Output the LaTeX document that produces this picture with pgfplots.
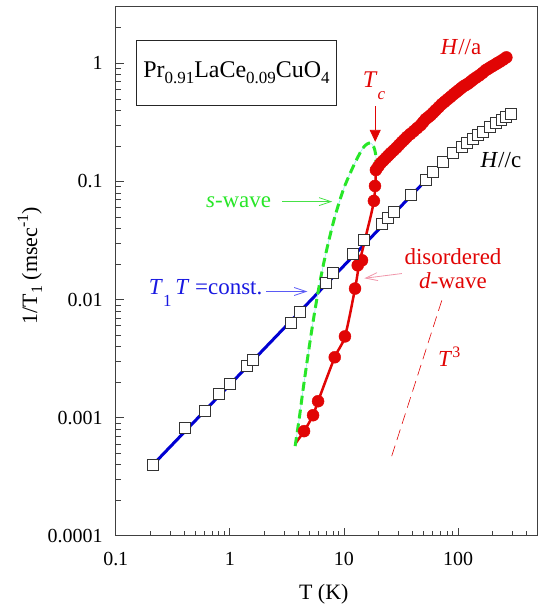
\documentclass[border=0pt]{standalone}
\usepackage{fontspec}
\setmainfont{Liberation Serif}
\usepackage{pgfplots}
\pgfplotsset{compat=1.18}
\usetikzlibrary{arrows.meta}

\definecolor{myred}{RGB}{225,5,5}
\definecolor{lineblue}{RGB}{0,0,210}
\definecolor{txtblue}{RGB}{25,25,225}
\definecolor{arrblue}{RGB}{90,90,245}
\definecolor{mygreen}{RGB}{40,230,40}
\definecolor{arrgreen}{RGB}{70,225,70}
\definecolor{lightcyan}{RGB}{150,235,240}
\definecolor{pinkarr}{RGB}{240,150,170}

\newcommand{\sub}[1]{\raisebox{-6pt}{\fontsize{17}{20}\selectfont #1}}

% H//c : open squares
\pgfplotstableread{
T r
0.212 0.000400
0.403 0.000826
0.602 0.00114
0.80 0.00160
1.004 0.00194
1.40 0.00273
1.60 0.00306
3.44 0.0064
4.13 0.0079
6.96 0.0139
8.0 0.0169
12.0 0.0245
14.96 0.032
21.5 0.0438
24.2 0.0492
27.3 0.0553
38.5 0.0769
52 0.103
60 0.120
73.2 0.146
89.5 0.174
107.3 0.195
118.7 0.211
133.9 0.228
148 0.247
163.7 0.262
188.4 0.288
212.6 0.312
239.9 0.330
265.2 0.350
293.3 0.371
}\hcdata

% H//a : filled circles
\pgfplotstableread{
T r
4.47 0.00077
5.36 0.00105
5.93 0.00138
8.30 0.00325
10.2 0.00488
12.5 0.0124
13.2 0.0195
14.4 0.0215
18.3 0.0685
18.7 0.0916
19.05 0.125
20.0 0.134
21.0 0.143
22.1 0.150
23.3 0.158
24.5 0.166
25.7 0.174
27.2 0.183
28.8 0.193
30.4 0.204
32.1 0.2155
33.8 0.226
35.5 0.2374
38.1 0.252
40.9 0.2668
43.8 0.283
47.0 0.2998
49.4 0.318
52.0 0.3368
54.7 0.350
57.5 0.3640
60.5 0.382
63.6 0.4012
67.6 0.425
71.8 0.4508
76.3 0.473
81.0 0.4968
86.0 0.521
91.3 0.5475
96.0 0.569
101 0.5918
106 0.615
111.7 0.6395
117.5 0.658
123.5 0.6779
130 0.705
136.6 0.7328
145 0.762
154 0.7920
164 0.831
174 0.8728
183 0.899
192 0.9253
202 0.953
212.6 0.9808
223 1.010
235 1.0396
250 1.080
265 1.1236
}\hadata

% s-wave calculation
\pgfplotstableread{
T r
3.733 0.000575
4.046 0.000971
4.385 0.00174
4.752 0.00300
5.150 0.00506
5.580 0.00823
6.048 0.01287
6.688 0.02093
7.396 0.03209
8.178 0.0473
9.045 0.0658
10.0 0.0881
11.06 0.1113
12.23 0.1378
13.52 0.1674
14.65 0.1917
15.88 0.2072
17.21 0.2113
18.28 0.1954
18.95 0.170
19.1 0.143
}\swave

% disordered d-wave calculation
\pgfplotstableread{
T r
3.73 0.0006
4.47 0.00077
5.36 0.00105
5.93 0.00138
8.30 0.00325
10.2 0.00488
12.5 0.0124
13.6 0.020
15.2 0.0315
18.3 0.0685
19.05 0.125
}\dwave

\begin{document}
\begin{tikzpicture}
\begin{axis}[
  name=ax,
  xmode=log, ymode=log,
  width=423pt, height=530pt, scale only axis,
  xmin=0.1, xmax=500, ymin=0.0001, ymax=3,
  xtick={0.1,1,10,100}, xticklabels={0.1,1,10,100},
  ytick={0.0001,0.001,0.01,0.1,1}, yticklabels={0.0001,0.001,0.01,0.1,1},
  minor xtick={0.2,0.3,0.4,0.5,0.6,0.7,0.8,0.9,2,3,4,5,6,7,8,9,20,30,40,50,60,70,80,90,200,300,400},
  minor ytick={0.0002,0.0003,0.0004,0.0005,0.0006,0.0007,0.0008,0.0009,
    0.002,0.003,0.004,0.005,0.006,0.007,0.008,0.009,
    0.02,0.03,0.04,0.05,0.06,0.07,0.08,0.09,
    0.2,0.3,0.4,0.5,0.6,0.7,0.8,0.9,2},
  tick align=inside, xtick pos=bottom, ytick pos=left,
  major tick length=8pt, minor tick length=5pt,
  axis line style={black!75, line width=1pt},
  every tick/.style={black!75, line width=0.8pt},
  ticklabel style={font=\fontsize{20}{24}\selectfont},
  xticklabel style={anchor=base, yshift=-30pt},
  yticklabel style={anchor=east, inner sep=0pt, xshift=-13pt},
  xlabel={T (K)},
  ylabel={1/T\raisebox{-5pt}{\fontsize{16}{18}\selectfont 1} (msec\raisebox{9pt}{\fontsize{16}{18}\selectfont -1})},
  label style={font=\fontsize{22}{26}\selectfont},
  xlabel style={at={(rel axis cs:0.5,0)}, anchor=center, yshift=-58pt, xshift=-3pt},
  ylabel style={at={(rel axis cs:-0.2033,0.511)}, anchor=center},
  clip=false,
]
% T1T = const. line
\addplot[lineblue, line width=3pt] coordinates {(0.212,0.0004) (50,0.098)};
% disordered d-wave line
\addplot[myred, line width=2.5pt, smooth] table[x=T, y=r] {\dwave};
% H//a
\addplot[only marks, mark=*, mark size=6pt, mark options={fill=myred, draw=myred}] table[x=T, y=r] {\hadata};
% H//c
\addplot[only marks, mark=square*, mark size=5.5pt, mark options={fill=white, draw=black!80, line width=0.9pt}] table[x=T, y=r] {\hcdata};
% s-wave
\addplot[lightcyan, line width=0.6pt, smooth] table[x=T, y=r] {\swave};
\addplot[mygreen, line width=3pt, dash pattern=on 9pt off 5pt, smooth] table[x=T, y=r] {\swave};
% T^3 guide
\addplot[myred, line width=0.6pt, dash pattern=on 11pt off 6pt] coordinates {(26.2,0.000473) (74.7,0.011)};

% annotations
\node[draw=black!85, line width=0.9pt, minimum width=200pt, minimum height=65pt, inner sep=0pt,
  font=\fontsize{24}{28}\selectfont] at (rel axis cs:0.286,0.875)
  {Pr\sub{0.91}LaCe\sub{0.09}CuO\sub{4}};
\node[myred, font=\fontsize{23}{26}\selectfont] at (rel axis cs:0.818,0.925) {\textit{H}//a};
\node[black, font=\fontsize{23}{26}\selectfont] at (rel axis cs:0.9125,0.711) {\textit{H}//c};
\node[myred, font=\fontsize{24}{26}\selectfont] at (rel axis cs:0.612,0.851)
  {\textit{T}\raisebox{-12pt}{\fontsize{17}{20}\selectfont\textit{c}}};
\draw[myred, line width=0.8pt, -{Triangle[length=12pt, width=11pt]}] (rel axis cs:0.6147,0.812) -- (rel axis cs:0.6147,0.745);
\node[myred, font=\fontsize{23}{24}\selectfont, align=center] at (rel axis cs:0.799,0.506) {disordered\\\textit{d}-wave};
\draw[pinkarr, line width=0.8pt, -{Straight Barb[length=12pt, width=8pt]}] (rel axis cs:0.678,0.496) -- (rel axis cs:0.589,0.487);
\node[mygreen, font=\fontsize{23}{26}\selectfont] at (rel axis cs:0.291,0.630) {\textit{s}-wave};
\draw[arrgreen, line width=0.8pt, -{Straight Barb[length=12pt, width=8pt]}] (rel axis cs:0.395,0.632) -- (rel axis cs:0.513,0.632);
\node[txtblue, font=\fontsize{23}{26}\selectfont] at (rel axis cs:0.213,0.46)
  {\textit{T}\raisebox{-12pt}{\fontsize{17}{20}\selectfont 1}\,\textit{T} =const.};
\draw[arrblue, line width=0.8pt, -{Straight Barb[length=12pt, width=8pt]}] (rel axis cs:0.357,0.462) -- (rel axis cs:0.454,0.462);
\node[myred, font=\fontsize{23}{26}\selectfont] at (rel axis cs:0.79,0.338)
  {\textit{T}\raisebox{9pt}{\fontsize{16}{20}\selectfont 3}};
\end{axis}
\path (ax.south west) ++(-116pt,-70pt);
\path (ax.north east) ++(1pt,7pt);
\end{tikzpicture}
\end{document}
